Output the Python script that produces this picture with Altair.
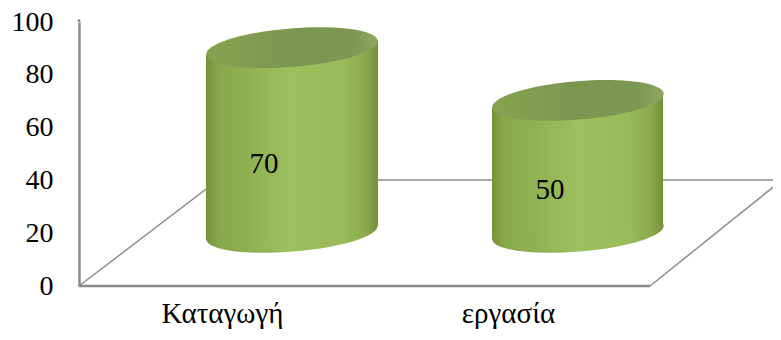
import altair as alt
import numpy as np
import pandas as pd

categories = ["Καταγωγή", "εργασία"]
values = [70, 50]
cyl_left = [127, 413]
cyl_right = [299, 584]
cyl_center = [213, 499]
label_x = [185, 471]
label_y = [46.2, 36.4]
cat_label_x = [143, 429]
base_depth = 20.3
tilt = 2.65

floor_x = [0, 0, 139, 571, 0]
floor_x2 = [571, 139, 703, 703, 0]
floor_y = [0, 0, 40.15, 0, 100]
floor_y2 = [0, 40.15, 40.15, 40.15, 101]
floor_w = [2.5, 1.5, 1.5, 1.5, 2.5]

font = "Liberation Serif"
FS_Y = 28
FS_X = 29
FS_V = 29


def tilted_ellipse(ratio=0.224, angle=-4.7):
    k = 0.5523
    pts = np.array([[-1, 0], [-1, -k * ratio], [-k, -ratio], [0, -ratio], [k, -ratio], [1, -k * ratio],
                    [1, 0], [1, k * ratio], [k, ratio], [0, ratio], [-k, ratio], [-1, k * ratio], [-1, 0]])
    t = np.radians(angle)
    r = np.array([[np.cos(t), -np.sin(t)], [np.sin(t), np.cos(t)]])
    p = pts @ r.T
    s = f"M {p[0,0]:.4f} {p[0,1]:.4f}"
    for i in range(1, 13, 3):
        s += " C " + " ".join(f"{p[j,0]:.4f} {p[j,1]:.4f}" for j in range(i, i + 3))
    return s + " Z"


ELL = tilted_ellipse()
SIZE = 172 ** 2

x_scale = alt.Scale(domain=[0, 694], nice=False, zero=False)
y_scale = alt.Scale(domain=[0, 100], nice=False)

floor = pd.DataFrame({"x": floor_x, "x2": floor_x2, "y": floor_y, "y2": floor_y2, "w": floor_w})
rows = []
for c, l, r, v in zip(categories, cyl_left, cyl_right, values):
    rows.append({"c": c, "x": l, "top": base_depth + v - tilt, "bottom": base_depth - tilt})
    rows.append({"c": c, "x": r, "top": base_depth + v + tilt, "bottom": base_depth + tilt})
body = pd.DataFrame(rows)
caps = pd.DataFrame({"c": categories, "x": cyl_center,
                     "top": [base_depth + v for v in values], "bottom": [base_depth] * 2})
labels = pd.DataFrame({"v": values, "x": label_x, "y": label_y})

side = alt.Gradient(gradient="linear", x1=0, x2=1, y1=0, y2=0, stops=[
    alt.GradientStop(color="#75923c", offset=0),
    alt.GradientStop(color="#88a94a", offset=0.07),
    alt.GradientStop(color="#90b152", offset=0.25),
    alt.GradientStop(color="#9dc05e", offset=0.5),
    alt.GradientStop(color="#98ba58", offset=0.8),
    alt.GradientStop(color="#8aa94c", offset=0.93),
    alt.GradientStop(color="#72903b", offset=1),
])
cap = alt.Gradient(gradient="linear", x1=0, x2=1, y1=0, y2=0, stops=[
    alt.GradientStop(color="#86a350", offset=0),
    alt.GradientStop(color="#7b9650", offset=0.5),
    alt.GradientStop(color="#7d9853", offset=0.85),
    alt.GradientStop(color="#8ca85e", offset=1),
])

x_axis = alt.Axis(values=cat_label_x, domain=False, ticks=False, grid=False, title=None,
                  labelExpr="datum.value < 300 ? '%s' : '%s'" % (categories[0], categories[1]),
                  labelFont=font, labelFontSize=FS_X, labelColor="#000000", labelPadding=13)
y_axis = alt.Axis(values=[0, 20, 40, 60, 80, 100], domainColor="#8c8c8c", domainWidth=2.5, ticks=False,
                  grid=False, title=None, labelFont=font, labelFontSize=FS_Y, labelColor="#000000", labelPadding=26)

lines = alt.Chart(floor).mark_rule(color="#8c8c8c").encode(
    x=alt.X("x:Q", scale=x_scale, axis=x_axis),
    x2="x2:Q",
    y=alt.Y("y:Q", scale=y_scale, axis=y_axis),
    y2="y2:Q",
    strokeWidth=alt.StrokeWidth("w:Q", scale=None),
)
bottoms = alt.Chart(caps).mark_point(shape=ELL, size=SIZE, filled=True, opacity=1, fill=side, strokeWidth=0).encode(
    x=alt.X("x:Q", scale=x_scale), y=alt.Y("bottom:Q", scale=y_scale))
bodies = alt.Chart(body).mark_area(fill=side, opacity=1).encode(
    x=alt.X("x:Q", scale=x_scale), y=alt.Y("top:Q", scale=y_scale), y2="bottom:Q", detail="c:N")
tops = alt.Chart(caps).mark_point(shape=ELL, size=SIZE, filled=True, opacity=1, fill=cap, strokeWidth=0).encode(
    x=alt.X("x:Q", scale=x_scale), y=alt.Y("top:Q", scale=y_scale))
text = alt.Chart(labels).mark_text(font=font, fontSize=FS_V, color="#000000").encode(
    x=alt.X("x:Q", scale=x_scale), y=alt.Y("y:Q", scale=y_scale), text="v:Q")

chart = alt.layer(lines, bottoms, bodies, tops, text).properties(
    width=694, height=264,
    padding={"left": 71, "top": 14, "right": 0, "bottom": 46},
    autosize=alt.AutoSizeParams(type="none"),
    background="#ffffff",
).configure_view(stroke=None)

chart.save("out.html", embed_options={"renderer": "svg", "actions": False})
